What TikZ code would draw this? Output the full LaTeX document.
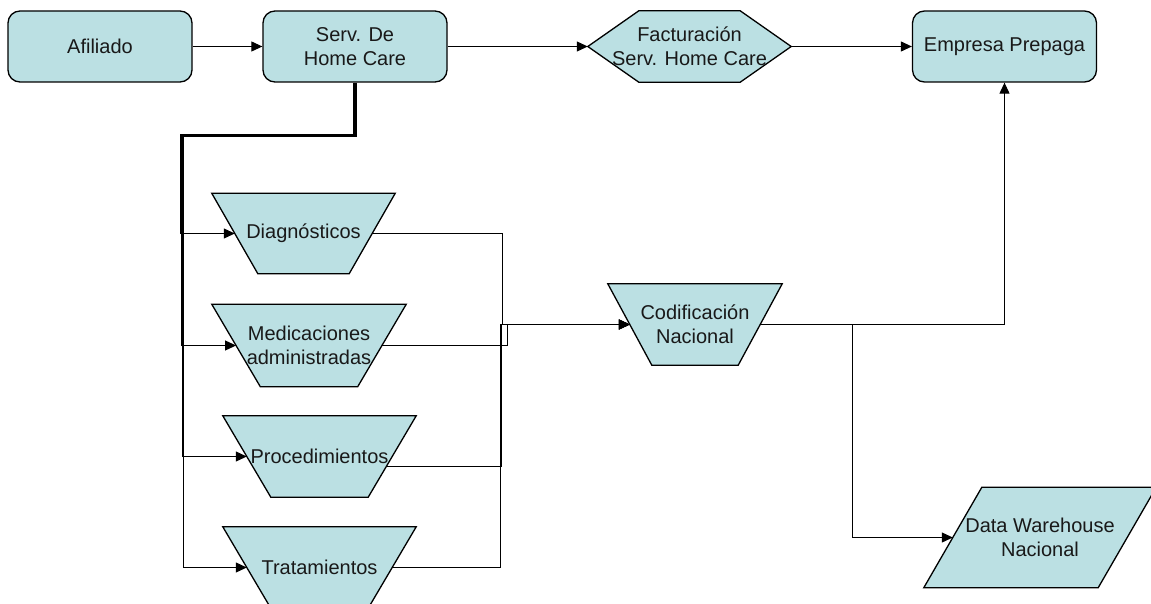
\documentclass[tikz,border=0pt]{standalone}
\usepackage{fontspec}
\setmainfont{Liberation Sans}
\usetikzlibrary{arrows.meta,backgrounds,calc}
\definecolor{boxfill}{RGB}{187,224,227}
\definecolor{inkgray}{RGB}{25,25,25}

% inverted trapezoid drawn around the core node #1, #2 = horizontal slant per half height
\newcommand\trapshape[2]{%
  \filldraw[shapeline] ([xshift=-#2]#1.north west) -- ([xshift=#2]#1.north east)
    -- ([xshift=-#2]#1.south east) -- ([xshift=#2]#1.south west) -- cycle;}

\begin{document}
\begin{tikzpicture}[x=1pt,y=-1pt,
  font=\fontsize{20}{24}\selectfont,
  box/.style={draw, fill=boxfill, rounded corners=12pt, minimum width=184pt,
    minimum height=71pt, inner sep=0pt, line width=1.3pt, text=inkgray, align=center},
  core/.style={inner sep=0pt, text=inkgray, align=center},
  shapeline/.style={draw=black, fill=boxfill, line width=1.3pt, line join=miter},
  arr/.style={line width=1.05pt, -{Triangle[length=11pt,width=10pt]}}]

\useasboundingbox (0,0) rectangle (1151,604);

% top row
\node[box] (afil) at (100,46.5) {Afiliado};
\node[box] (serv) at (355,46.5) {Serv. De\\Home Care};
\node[core, minimum width=203pt, minimum height=71pt] (fact) at (689.5,46.5) {Facturación\\Serv. Home Care};
\node[box] (emp) at (1004.5,46.5) {Empresa Prepaga};

% record types
\node[core, minimum width=137pt, minimum height=80pt] (diag) at (303.5,233.5) {Diagnósticos};
\node[core, minimum width=145.5pt, minimum height=82pt] (med) at (309,345.5) {Medicaciones\\administradas};
\node[core, minimum width=145pt, minimum height=81pt] (proc) at (319.5,456.5) {Procedimientos};
\node[core, minimum width=145pt, minimum height=81pt] (trat) at (319.5,567.5) {Tratamientos};

% coding and storage
\node[core, minimum width=130pt, minimum height=81pt] (cod) at (695,324.5) {Codificación\\Nacional};
\node[core, minimum width=174pt, minimum height=100pt] (dw) at (1040,537.5) {Data Warehouse\\Nacional};

\begin{scope}[on background layer]
  % hexagon
  \filldraw[shapeline] (fact.west) -- ([xshift=51pt]fact.north west) -- ([xshift=-51pt]fact.north east)
    -- (fact.east) -- ([xshift=-51pt]fact.south east) -- ([xshift=51pt]fact.south west) -- cycle;
  \trapshape{diag}{23pt}
  \trapshape{med}{24.25pt}
  \trapshape{proc}{24pt}
  \trapshape{trat}{24pt}
  \trapshape{cod}{22pt}
  % parallelogram
  \filldraw[shapeline] ([xshift=-29pt]dw.south west) -- ([xshift=29pt]dw.north west)
    -- ([xshift=29pt]dw.north east) -- ([xshift=-29pt]dw.south east) -- cycle;
\end{scope}

% main flow
\draw[arr] (afil.east) -- (serv.west);
\draw[arr] (serv.east) -- (fact.west);
\draw[arr] (fact.east) -- (emp.west);

% fan-out from the home care service
\draw[arr] ([xshift=-1pt]serv.south) |- (181,134.5) |- (diag.west);
\draw[arr] ([xshift=-0.3pt]serv.south) |- (181.7,135.2) |- (med.west);
\draw[arr] ([xshift=0.4pt]serv.south) |- (182.4,135.9) |- (proc.west);
\draw[arr] ([xshift=1.1pt]serv.south) |- (183.5,136.6) |- (trat.west);

% collection into the national coding
\draw[arr] (diag.east) -| (502.5,324.5) -- (cod.west);
\draw[arr] (med.east) -| (507.5,324.5) -- (cod.west);
\draw[arr] ([xshift=-6pt,yshift=-10pt]proc.east) -| (501.5,324.5) -- (cod.west);
\draw[arr] (trat.east) -| (500.5,324.5) -- (cod.west);

% outputs of the national coding
\draw[arr] (cod.east) -| (emp.south);
\draw[arr] (cod.east) -- (852.5,324.5) |- (dw.west);
\end{tikzpicture}
\end{document}
